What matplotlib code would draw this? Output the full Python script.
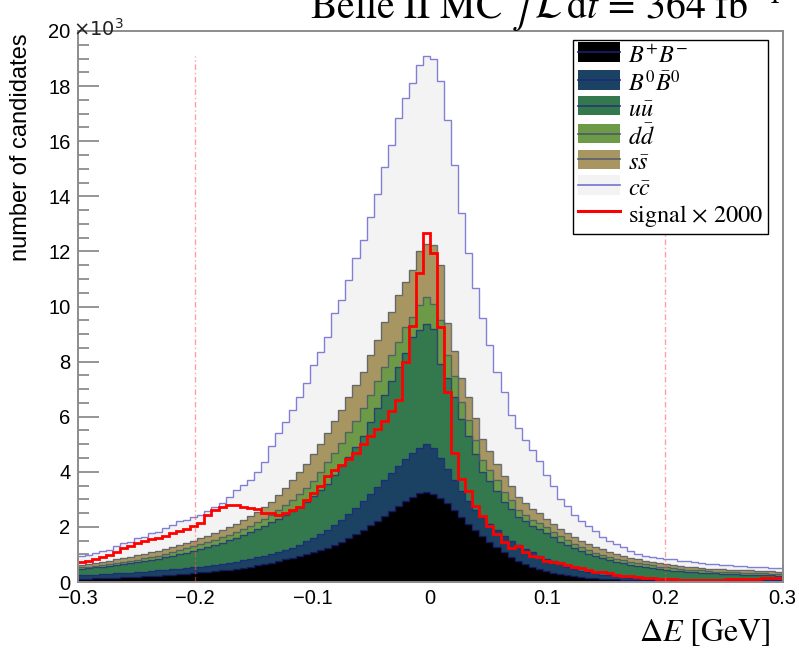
import numpy as np
import matplotlib
matplotlib.use("Agg")
import matplotlib.pyplot as plt
from matplotlib.ticker import MultipleLocator, FixedLocator, FixedFormatter
from matplotlib.legend_handler import HandlerBase
from matplotlib.patches import Rectangle
from matplotlib.lines import Line2D

# ---------------- data (stacked tops, in units of 10^3 candidates) ----------------
x_lo, x_hi, n_bins = -0.3, 0.3, 100

top_bpbm = [0.12,0.12,0.13,0.14,0.15,0.16,0.17,0.18,0.19,0.20,
            0.21,0.23,0.24,0.26,0.28,0.30,0.32,0.35,0.37,0.40,
            0.42,0.45,0.48,0.52,0.56,0.60,0.65,0.70,0.76,0.82,
            0.88,0.94,1.01,1.08,1.15,1.24,1.35,1.47,1.60,1.75,
            1.90,2.06,2.22,2.40,2.58,2.77,2.95,3.10,3.22,3.28,
            3.20,3.05,2.85,2.60,2.35,2.10,1.88,1.66,1.45,1.26,
            1.08,0.92,0.78,0.66,0.55,0.46,0.39,0.33,0.28,0.24,
            0.21,0.18,0.16,0.14,0.12,0.11,0.10,0.09,0.08,0.07,
            0.065,0.06,0.055,0.05,0.05,0.045,0.045,0.04,0.04,0.04,
            0.035,0.035,0.035,0.03,0.03,0.03,0.03,0.03,0.03,0.03]

top_b0b0 = [0.25,0.26,0.27,0.28,0.30,0.31,0.33,0.34,0.36,0.38,
            0.40,0.42,0.44,0.46,0.48,0.50,0.53,0.56,0.59,0.62,
            0.66,0.70,0.74,0.79,0.84,0.89,0.95,1.02,1.09,1.17,
            1.25,1.36,1.48,1.61,1.75,1.90,2.07,2.26,2.47,2.70,
            2.95,3.20,3.45,3.70,3.95,4.20,4.45,4.68,4.88,5.02,
            4.85,4.50,4.10,3.70,3.30,2.95,2.62,2.35,2.10,1.88,
            1.67,1.48,1.33,1.20,1.08,0.96,0.85,0.75,0.64,0.56,
            0.48,0.41,0.36,0.31,0.27,0.24,0.21,0.18,0.16,0.14,
            0.12,0.11,0.10,0.10,0.09,0.09,0.09,0.08,0.08,0.08,
            0.08,0.07,0.07,0.07,0.07,0.07,0.06,0.06,0.06,0.06]

top_uu = [0.47,0.50,0.53,0.56,0.59,0.62,0.65,0.68,0.72,0.76,
          0.80,0.84,0.89,0.94,1.00,1.06,1.13,1.20,1.27,1.34,
          1.42,1.51,1.60,1.70,1.81,1.92,2.04,2.16,2.29,2.43,
          2.58,2.74,2.92,3.12,3.33,3.55,3.90,4.20,4.55,4.90,
          5.30,5.80,6.30,6.80,7.30,7.80,8.30,8.90,9.15,9.35,
          9.20,7.90,7.40,6.70,5.90,5.30,4.65,4.00,3.65,3.30,
          2.92,2.65,2.35,2.20,2.04,1.92,1.77,1.62,1.47,1.34,
          1.22,1.12,1.02,0.94,0.87,0.80,0.74,0.68,0.63,0.58,
          0.54,0.50,0.47,0.44,0.41,0.39,0.37,0.35,0.34,0.32,
          0.31,0.30,0.29,0.28,0.27,0.26,0.25,0.25,0.24,0.23]

top_dd = [0.53,0.56,0.59,0.62,0.66,0.69,0.73,0.77,0.81,0.86,
          0.91,0.96,1.02,1.08,1.15,1.22,1.30,1.37,1.45,1.53,
          1.62,1.72,1.82,1.93,2.05,2.17,2.30,2.44,2.60,2.78,
          2.97,3.18,3.42,3.68,3.98,4.35,4.70,5.05,5.45,5.85,
          6.30,6.80,7.30,7.82,8.25,8.70,9.27,9.63,10.06,10.34,
          10.10,9.50,8.24,7.46,6.55,5.89,5.16,4.43,4.07,3.71,
          3.28,2.98,2.62,2.44,2.26,2.15,1.98,1.82,1.66,1.52,
          1.39,1.27,1.16,1.07,0.99,0.92,0.85,0.79,0.73,0.68,
          0.64,0.60,0.56,0.53,0.50,0.48,0.45,0.43,0.42,0.40,
          0.38,0.37,0.36,0.35,0.34,0.33,0.32,0.31,0.30,0.29]

top_ss = [0.63,0.66,0.70,0.74,0.78,0.82,0.87,0.92,0.97,1.02,
          1.08,1.14,1.21,1.28,1.35,1.42,1.50,1.58,1.67,1.77,
          1.88,2.00,2.12,2.26,2.40,2.55,2.72,2.92,3.15,3.40,
          3.70,4.00,4.30,4.65,5.00,5.40,5.85,6.25,6.70,7.15,
          7.64,8.24,8.79,9.45,9.81,10.42,10.90,11.33,12.00,12.27,
          12.25,11.50,9.39,8.40,7.40,6.70,5.95,5.20,4.75,4.30,
          3.85,3.50,3.10,2.85,2.65,2.50,2.30,2.12,1.94,1.78,
          1.63,1.50,1.38,1.27,1.18,1.10,1.02,0.95,0.88,0.82,
          0.77,0.72,0.68,0.64,0.61,0.58,0.55,0.53,0.51,0.49,
          0.47,0.46,0.45,0.44,0.43,0.42,0.41,0.40,0.39,0.38]

top_cc = [0.93,0.99,1.05,1.11,1.17,1.29,1.41,1.47,1.59,1.65,
          1.77,1.83,1.96,2.07,2.20,2.26,2.35,2.45,2.56,2.74,
          2.87,3.10,3.35,3.53,3.71,4.01,4.37,4.92,5.41,5.82,
          6.25,6.73,7.24,7.88,8.35,8.90,9.77,10.24,10.96,11.76,
          12.40,13.25,14.10,15.07,15.86,16.84,17.57,18.10,18.76,19.10,
          18.99,18.20,16.77,15.13,13.38,11.93,10.66,9.58,8.60,7.64,
          6.91,6.07,5.58,5.16,4.80,4.40,3.90,3.50,3.00,2.75,
          2.45,2.20,2.03,1.85,1.62,1.50,1.38,1.26,1.14,1.03,
          0.96,0.90,0.87,0.85,0.82,0.78,0.75,0.72,0.70,0.67,
          0.64,0.62,0.60,0.58,0.57,0.55,0.55,0.53,0.52,0.50]

signal_x2000 = [0.72,0.78,0.85,0.90,0.98,1.10,1.22,1.30,1.40,1.48,
                1.55,1.60,1.68,1.78,1.86,1.93,2.02,2.15,2.44,2.62,
                2.72,2.80,2.80,2.74,2.68,2.64,2.50,2.50,2.44,2.50,
                2.62,2.74,2.98,3.23,3.50,3.85,4.05,4.25,4.45,4.70,
                5.00,5.30,5.55,5.85,6.20,6.60,8.00,9.30,11.20,12.66,
                11.95,9.25,6.90,4.70,3.75,3.30,2.75,2.40,2.05,1.75,
                1.45,1.22,1.30,1.10,0.95,0.90,0.78,0.72,0.68,0.60,
                0.55,0.52,0.42,0.38,0.35,0.33,0.25,0.22,0.20,0.18,
                0.15,0.13,0.12,0.10,0.10,0.09,0.09,0.08,0.08,0.08,
                0.08,0.09,0.10,0.10,0.11,0.12,0.12,0.13,0.13,0.13]

labels = [r"$B^{+}B^{-}$", r"$B^{0}\bar{B}^{0}$", r"$u\bar{u}$",
          r"$d\bar{d}$", r"$s\bar{s}$", r"$c\bar{c}$", r"signal $\times$ 2000"]
fill_colors = ["#000000", "#1b4262", "#34794e", "#6c9a46", "#a89662", "#f4f3f3"]
edge_colors = ["#1c1c70", "#1c2c7c", "#26367a", "#4c5a6c", "#58606c", "#7373d2"]

cut_positions = [-0.2, 0.2]
xtick_values = [-0.3, -0.2, -0.1, 0.0, 0.1, 0.2, 0.3]
xtick_labels = ["\u22120.3", "\u22120.2", "\u22120.1", "0", "0.1", "0.2", "0.3"]
ytick_values = [0, 2, 4, 6, 8, 10, 12, 14, 16, 18, 20]
ytick_labels = ["0", "2", "4", "6", "8", "10", "12", "14", "16", "18", "20"]

# ---------------- figure ----------------
W, H = 799, 649
fig = plt.figure(figsize=(W / 100, H / 100), dpi=100)
ax_l, ax_r, ax_t, ax_b = 77.5, 782.5, 31.0, 582.0
ax = fig.add_axes([ax_l / W, 1 - ax_b / H, (ax_r - ax_l) / W, (ax_b - ax_t) / H])

edges = np.linspace(x_lo, x_hi, n_bins + 1)
tops = [top_bpbm, top_b0b0, top_uu, top_dd, top_ss, top_cc]
prev = np.zeros(n_bins)
for i, (top, fc) in enumerate(zip(tops, fill_colors)):
    top = np.maximum(np.asarray(top, float), prev)
    ax.stairs(top, edges, baseline=prev, fill=True, color=fc, lw=0, zorder=2 + i * 0.01)
    prev = top
prev = np.zeros(n_bins)
for i, (top, ec) in enumerate(zip(tops, edge_colors)):
    top = np.maximum(np.asarray(top, float), prev)
    ax.stairs(top, edges, baseline=None, color=ec, lw=1.0,
              alpha=0.85 if i < 5 else 0.9, zorder=3 + i * 0.01)
    prev = top

ax.stairs(signal_x2000, edges, baseline=None, color="#ff0000", lw=2.0, zorder=5)

ymax_cut = max(top_cc)
for xc in cut_positions:
    ax.plot([xc, xc], [0, ymax_cut], color="#ff5050", lw=1.0, alpha=0.55,
            linestyle=(0, (4, 2, 1, 2)), zorder=6)

ax.set_xlim(x_lo, x_hi)
ax.set_ylim(0, 20)

frame_col = "#8c8c8c"
for s in ax.spines.values():
    s.set_color(frame_col)
    s.set_linewidth(1.4)
    s.set_zorder(7)

ax.xaxis.set_major_locator(FixedLocator(xtick_values))
ax.xaxis.set_major_formatter(FixedFormatter(xtick_labels))
ax.xaxis.set_minor_locator(MultipleLocator(0.02))
ax.yaxis.set_major_locator(FixedLocator(ytick_values))
ax.yaxis.set_major_formatter(FixedFormatter(ytick_labels))
ax.yaxis.set_minor_locator(MultipleLocator(0.5))

tick_font = "Liberation Sans"
ax.tick_params(axis="y", which="major", direction="in", length=15, width=1.3,
               color=frame_col, pad=5, labelsize=14.5)
ax.tick_params(axis="y", which="minor", direction="in", length=8, width=1.3, color=frame_col)
ax.tick_params(axis="x", which="major", direction="in", length=12, width=1.3,
               color="#444444", pad=5, labelsize=14.5)
ax.tick_params(axis="x", which="minor", direction="in", length=6, width=1.1, color="#444444")
for lab in ax.get_xticklabels() + ax.get_yticklabels():
    lab.set_fontfamily(tick_font)
ax.tick_params(which="both", zorder=8)

# texts
fig.text(21 / W, 1 - 33 / H, "number of candidates", rotation=90, ha="center", va="top",
         fontsize=17, family=tick_font)
fig.text(73 / W, 1 - 36 / H, r"$\times10^{3}$", ha="left", va="baseline",
         fontsize=14, math_fontfamily="dejavusans", color="#222222")
fig.text(310 / W, 1 - 18 / H, r"Belle II MC $\int\,\mathcal{L}\,\mathrm{d}t\,=\,364\ \mathrm{fb}^{-1}$",
         ha="left", va="baseline", fontsize=28.5, family="STIXGeneral", math_fontfamily="stix")
fig.text(770 / W, 1 - 641 / H, r"$\Delta E\ [\mathrm{GeV}]$", ha="right", va="baseline",
         fontsize=23, family="STIXGeneral", math_fontfamily="stix")

# legend
class BoxLineHandler(HandlerBase):
    def __init__(self, fc, lc, filled=True, lw=1.2):
        super().__init__()
        self.fc, self.lc, self.filled, self.lw = fc, lc, filled, lw

    def create_artists(self, legend, orig_handle, xd, yd, width, height, fontsize, trans):
        arts = []
        if self.filled:
            r = Rectangle((xd, yd), width, height, facecolor=self.fc, edgecolor="none", transform=trans)
            arts.append(r)
        ln = Line2D([xd, xd + width], [yd + height / 2, yd + height / 2], color=self.lc,
                    lw=self.lw, transform=trans)
        arts.append(ln)
        return arts

handles = [Line2D([], []) for _ in labels]
hmap = {}
for i in range(6):
    hmap[handles[i]] = BoxLineHandler(fill_colors[i], edge_colors[i], True, 1.2)
hmap[handles[6]] = BoxLineHandler(None, "#ff0000", False, 2.2)

leg = ax.legend(handles, labels, handler_map=hmap, loc="upper right",
                bbox_to_anchor=((768 - ax_l) / (ax_r - ax_l), (ax_b - 40) / (ax_b - ax_t)),
                borderaxespad=0, frameon=True, fancybox=False, framealpha=1,
                edgecolor="black", prop={"family": "STIXGeneral", "size": 17.5},
                handlelength=1.75, handleheight=0.85, handletextpad=0.3,
                labelspacing=0.1, borderpad=0.2)
leg.get_frame().set_linewidth(1.0)
leg.set_zorder(10)
for t in leg.get_texts():
    t.set_math_fontfamily("stix")

fig.savefig("out.png", dpi=100)
